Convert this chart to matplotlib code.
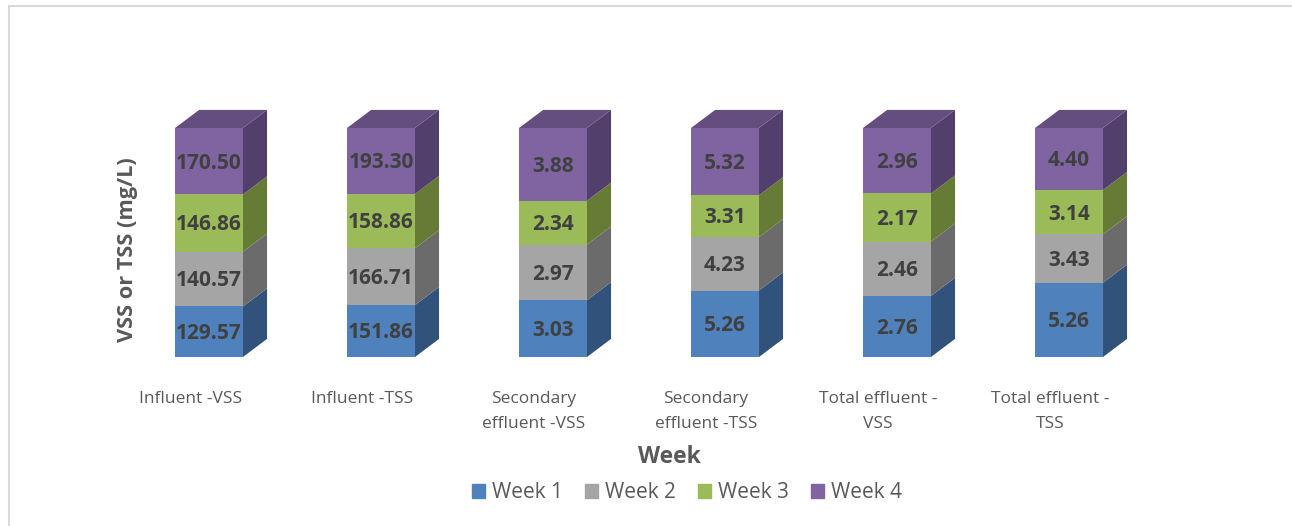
import numpy as np
import matplotlib.pyplot as plt
from matplotlib.patches import Polygon, Rectangle

categories = ["Influent -VSS", "Influent -TSS", "Secondary\neffluent -VSS",
              "Secondary\neffluent -TSS", "Total effluent -\nVSS", "Total effluent -\nTSS"]
weeks = ["Week 1", "Week 2", "Week 3", "Week 4"]
week1 = [129.57, 151.86, 3.03, 5.26, 2.76, 5.26]
week2 = [140.57, 166.71, 2.97, 4.23, 2.46, 3.43]
week3 = [146.86, 158.86, 2.34, 3.31, 2.17, 3.14]
week4 = [170.50, 193.30, 3.88, 5.32, 2.96, 4.40]

front = ["#4F81BD", "#A5A5A5", "#9BBB59", "#8064A2"]
side = ["#31527A", "#6B6B6B", "#667C36", "#533F6C"]
top = "#644E80"

plt.rcParams['font.family'] = ['Open Sans', 'DejaVu Sans']

fig = plt.figure(figsize=(12.92, 5.26), dpi=100)
# outer chart frame
fig.patches.append(Rectangle((9 / 1292, -0.01), 1.0, 1 - 6 / 526 + 0.01, transform=fig.transFigure,
                             fill=False, edgecolor="#D9D9D9", linewidth=1.5))

ax = fig.add_axes([123 / 1292, (526 - 357) / 526, 1032 / 1292, 229 / 526])
ax.set_xlim(-0.5, 5.5)
ax.set_ylim(0, 100)
ax.axis("off")

data = np.array([week1, week2, week3, week4])
pct = data / data.sum(axis=0) * 100
x = np.arange(len(categories))
w = 0.395
dx, dy = 0.14, 7.9

bottom = np.zeros(len(categories))
for k in range(4):
    ax.bar(x, pct[k], w, bottom=bottom, color=front[k], zorder=2)
    for i in range(len(categories)):
        y0, y1 = bottom[i], bottom[i] + pct[k][i]
        xr = x[i] + w / 2
        ax.add_patch(Polygon([(xr, y0), (xr + dx, y0 + dy), (xr + dx, y1 + dy), (xr, y1)],
                             closed=True, facecolor=side[k], edgecolor="none", zorder=1, clip_on=False))
        ax.text(x[i], (y0 + y1) / 2 - 0.8, f"{data[k][i]:.2f}", ha="center", va="center",
                fontsize=15, fontweight="bold", color="#404040", zorder=3)
    bottom += pct[k]

for i in range(len(categories)):
    xl, xr = x[i] - w / 2, x[i] + w / 2
    ax.add_patch(Polygon([(xl, 100), (xr, 100), (xr + dx, 100 + dy), (xl + dx, 100 + dy)],
                         closed=True, facecolor=top, edgecolor="none", zorder=1, clip_on=False))

for i, c in enumerate(categories):
    ax.text(x[i] - 0.11, -15, c, ha="center", va="top", fontsize=12.5, color="#595959",
            linespacing=1.68)

ax.text(669 / 1292, 1 - 457 / 526, "Week", transform=fig.transFigure, ha="center", va="center",
        fontsize=16.5, fontweight="bold", color="#595959")
ax.text(127 / 1292, 1 - 250 / 526, "VSS or TSS (mg/L)", transform=fig.transFigure, ha="center",
        va="center", rotation=90, fontsize=15.7, fontweight="bold", color="#595959")

handles = [Rectangle((0, 0), 1, 1, color=c) for c in front]
fig.legend(handles, weeks, loc="center", bbox_to_anchor=(687 / 1292, 1 - 493 / 526), ncol=4,
           frameon=False, fontsize=15, handlelength=0.62, handleheight=0.62, handletextpad=0.35,
           columnspacing=1.05, labelcolor="#595959")

fig.savefig("out.png", dpi=100)
